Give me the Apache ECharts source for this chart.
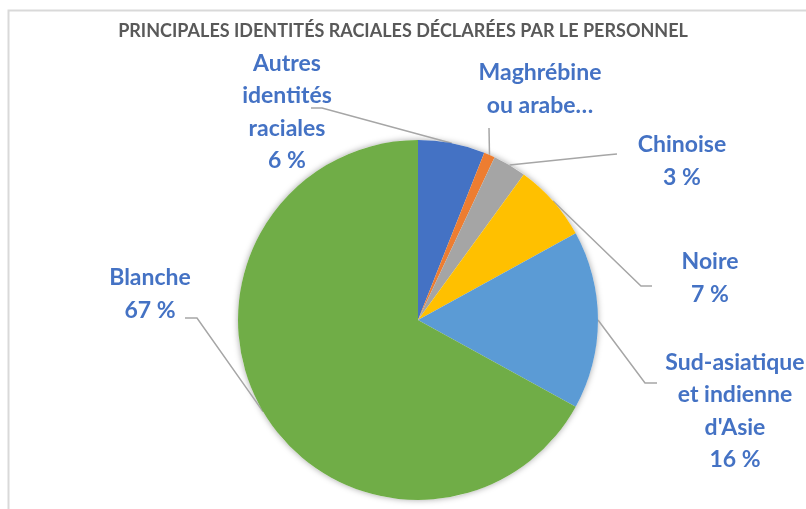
<!DOCTYPE html>
<html>
<head>
<meta charset="utf-8">
<script src="https://cdn.jsdelivr.net/npm/echarts@6/dist/echarts.min.js"></script>
<style>
  html, body { margin: 0; padding: 0; background: #fff; }
  #chart { width: 806px; height: 509px; }
</style>
</head>
<body>
<div id="chart"></div>
<script>
const titleText = "PRINCIPALES IDENTITÉS RACIALES DÉCLARÉES PAR LE PERSONNEL";

const categories = [
  "Autres identités raciales",
  "Maghrébine ou arabe…",
  "Chinoise",
  "Noire",
  "Sud-asiatique et indienne d'Asie",
  "Blanche",
];
const labelNames = [
  "Autres\nidentités\nraciales",
  "Maghrébine\nou arabe…",
  "Chinoise",
  "Noire",
  "Sud-asiatique\net indienne\nd'Asie",
  "Blanche",
];
const values = [6, 1, 3, 7, 16, 67];
const showPercent = [true, false, true, true, true, true];
const colors = ["#4472C4", "#ED7D31", "#A5A5A5", "#FFC000", "#5B9BD5", "#70AD47"];

// label anchor (center of text block) and leader elbow/end for each slice
const labelPos = [
  { x: 287, y: 112, elbow: [322, 108], end: [311, 108] },
  { x: 540, y: 89, elbow: [489, 128], end: [489, 128] },
  { x: 682, y: 161, elbow: [606, 155], end: [617, 154] },
  { x: 710, y: 278, elbow: [641, 286], end: [652, 286] },
  { x: 735, y: 411, elbow: [645, 383], end: [657, 383] },
  { x: 150, y: 294, elbow: [197, 318], end: [185, 318] },
];

const chart = echarts.init(document.getElementById("chart"));
const font = "Lato, 'Open Sans', sans-serif";
const center = [418, 320];
const radius = 180;

chart.setOption({
  animation: false,
  title: {
    text: titleText,
    left: "center",
    top: 17,
    textStyle: { color: "#595959", fontSize: 18, fontWeight: "bold", fontFamily: font },
  },
  graphic: [
    {
      type: "rect",
      shape: { x: 8.5, y: 10.5, width: 1000, height: 1000 },
      style: { fill: "none", stroke: "#d9d9d9", lineWidth: 2 },
      silent: true,
    },
  ],
  series: [
    {
      // soft shadow behind the pie
      type: "pie",
      center: center,
      radius: radius,
      silent: true,
      z: 1,
      label: { show: false },
      labelLine: { show: false },
      data: [{ value: 1, itemStyle: { color: "#fff", shadowBlur: 6, shadowColor: "rgba(0,0,0,0.35)" } }],
    },
    {
      type: "pie",
      center: center,
      radius: radius,
      startAngle: 90,
      clockwise: true,
      z: 2,
      data: categories.map((c, i) => ({
        name: c,
        value: values[i],
        itemStyle: { color: colors[i] },
      })),
      itemStyle: { borderWidth: 0 },
      label: {
        show: true,
        color: "#4472C4",
        fontFamily: font,
        fontWeight: "bold",
        fontSize: 23,
        lineHeight: 32.5,
        align: "center",
        formatter: (p) =>
          labelNames[p.dataIndex] + (showPercent[p.dataIndex] ? "\n" + p.value + " %" : ""),
      },
      labelLine: {
        show: true,
        lineStyle: { color: "#A6A6A6", width: 1.5 },
      },
      labelLayout: (params) => {
        const lp = labelPos[params.dataIndex];
        const start = params.labelLinePoints ? params.labelLinePoints[0] : lp.elbow;
        return {
          x: lp.x,
          y: lp.y,
          align: "center",
          verticalAlign: "middle",
          labelLinePoints: [start, lp.elbow, lp.end],
        };
      },
    },
  ],
});
</script>
</body>
</html>
